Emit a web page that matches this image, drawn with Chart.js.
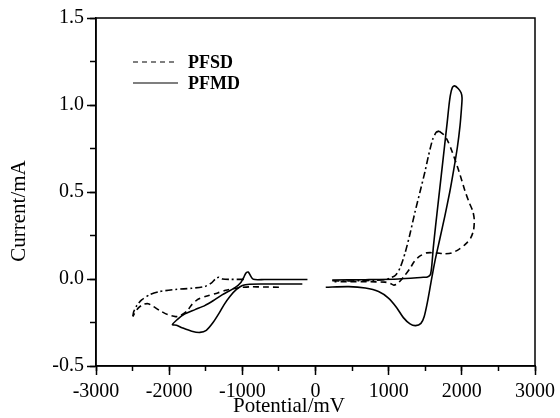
<!DOCTYPE html>
<html lang="en">
<head>
<meta charset="UTF-8">
<title>Cyclic voltammograms PFSD / PFMD</title>
<script src="https://cdn.jsdelivr.net/npm/chart.js@4"></script>
<style>
  html, body { margin: 0; padding: 0; background: #fff; }
  #wrap { width: 560px; height: 418px; }
</style>
</head>
<body>
<div id="wrap"><canvas id="cv"></canvas></div>
<script>
// axis ranges and labels
const xRange = [-3000, 3000];
const yRange = [-0.5, 1.5];
const xTitle = "Potential/mV";
const yTitle = "Current/mA";
const legendLabels = ["PFSD", "PFMD"];

// PFSD as [potential mV, current mA]
const pfsdNegLower = [[-500,-0.047],[-700,-0.046],[-900,-0.045],[-1050,-0.05],[-1227,-0.065],[-1337,-0.08],
  [-1470,-0.096],[-1600,-0.115],[-1690,-0.147],[-1757,-0.185],[-1846,-0.21],[-1912,-0.216],[-2022,-0.204],
  [-2133,-0.18],[-2221,-0.157],[-2288,-0.142],[-2354,-0.146],[-2420,-0.166],[-2477,-0.2],[-2495,-0.215]];
const pfsdNegUpper = [[-2495,-0.215],[-2486,-0.19],[-2442,-0.152],[-2376,-0.12],[-2265,-0.09],[-2133,-0.072],
  [-1912,-0.06],[-1691,-0.053],[-1514,-0.043],[-1420,-0.022],[-1360,0.004],[-1320,0.01],[-1270,0.0],
  [-1150,-0.002],[-950,-0.002]];
const pfsdPosRise = [[230,-0.01],[400,-0.012],[600,-0.01],[800,-0.008],[950,-0.004],[1045,0.01],[1100,0.025],
  [1156,0.064],[1224,0.149],[1292,0.26],[1360,0.385],[1428,0.5],[1495,0.615],[1545,0.71],[1600,0.8],
  [1650,0.843],[1690,0.85]];
const pfsdPosReturn = [[1690,0.85],[1750,0.83],[1800,0.8],[1860,0.74],[1920,0.67],[1975,0.6],[2040,0.51],
  [2100,0.44],[2150,0.39],[2170,0.34],[2160,0.28],[2120,0.235],[2050,0.2],[1960,0.17],[1860,0.15],
  [1760,0.145],[1650,0.15],[1520,0.15],[1420,0.13],[1350,0.1],[1290,0.06],[1220,0.02],[1160,-0.01],
  [1110,-0.03],[1070,-0.035],[1020,-0.025],[950,-0.018],[700,-0.016],[450,-0.015],[260,-0.016]];

// PFMD
const pfmdNeg = [[-110,-0.003],[-400,-0.003],[-700,-0.003],[-850,-0.002],[-890,0.02],[-920,0.04],[-950,0.035],
  [-980,0.01],[-1020,-0.02],[-1100,-0.05],[-1205,-0.075],[-1271,-0.09],[-1381,-0.12],[-1514,-0.153],
  [-1646,-0.176],[-1801,-0.204],[-1890,-0.233],[-1956,-0.262],[-1900,-0.266],[-1823,-0.28],[-1691,-0.3],
  [-1580,-0.307],[-1492,-0.295],[-1403,-0.252],[-1315,-0.195],[-1249,-0.147],[-1170,-0.1],[-1080,-0.06],
  [-1000,-0.037],[-900,-0.03],[-700,-0.029],[-400,-0.029],[-180,-0.029]];
const pfmdPos = [[140,-0.047],[455,-0.044],[681,-0.052],[862,-0.072],[997,-0.11],[1110,-0.165],[1201,-0.222],
  [1292,-0.258],[1368,-0.268],[1441,-0.255],[1486,-0.215],[1531,-0.13],[1576,-0.025],[1631,0.1],[1699,0.23],
  [1767,0.36],[1835,0.5],[1890,0.63],[1940,0.76],[1975,0.88],[1995,0.98],[2003,1.04],[1990,1.07],
  [1950,1.095],[1900,1.11],[1870,1.1],[1845,1.06],[1825,1.0],[1800,0.9],[1760,0.75],[1720,0.6],[1680,0.45],
  [1640,0.3],[1610,0.18],[1590,0.08],[1570,0.025],[1530,0.012],[1472,0.01],[1133,0.0],[681,-0.004],[228,-0.006]];

const DASH = [6, 4];
const DASH_DOT = [7, 3, 2, 3];
const FONT = '"Liberation Serif", "Times New Roman", serif';

function curve(points, dash) {
  return {
    data: points.map(([x, y]) => ({ x, y })),
    showLine: true,
    borderColor: "#000",
    borderWidth: 1.6,
    borderDash: dash,
    pointRadius: 0,
    tension: 0.25,
    fill: false
  };
}

// frame, axis titles and the little legend in the top-left corner
const decorations = {
  id: "decorations",
  afterDraw(chart) {
    const { ctx, chartArea: a } = chart;
    ctx.save();
    ctx.strokeStyle = "#000";
    ctx.lineWidth = 1.5;
    ctx.strokeRect(a.left, a.top, a.right - a.left, a.bottom - a.top);

    ctx.fillStyle = "#000";
    ctx.font = "21px " + FONT;
    ctx.textAlign = "center";
    ctx.textBaseline = "middle";
    ctx.fillText(xTitle, 289, 406);
    ctx.save();
    ctx.translate(19, 211);
    ctx.rotate(-Math.PI / 2);
    ctx.fillText(yTitle, 0, 0);
    ctx.restore();

    const dashes = [[5, 4], []];
    ctx.font = "bold 18px " + FONT;
    ctx.textAlign = "left";
    ctx.lineWidth = 1.2;
    legendLabels.forEach((label, i) => {
      const y = 62 + i * 21;
      ctx.setLineDash(dashes[i]);
      ctx.beginPath();
      ctx.moveTo(133, y);
      ctx.lineTo(178, y);
      ctx.stroke();
      ctx.fillText(label, 188, y + 1);
    });
    ctx.restore();
  }
};

const tickFont = { family: FONT, size: 20 };

new Chart(document.getElementById("cv"), {
  type: "scatter",
  data: {
    datasets: [
      curve(pfsdNegLower, DASH),
      curve(pfsdNegUpper, DASH_DOT),
      curve(pfsdPosRise, DASH_DOT),
      curve(pfsdPosReturn, DASH),
      curve(pfmdNeg, []),
      curve(pfmdPos, [])
    ]
  },
  options: {
    responsive: true,
    maintainAspectRatio: false,
    animation: false,
    layout: { padding: { top: 18, right: 23, left: 0, bottom: 0 } },
    plugins: { legend: { display: false }, tooltip: { enabled: false } },
    scales: {
      x: {
        type: "linear", position: "bottom", weight: 1,
        min: xRange[0], max: xRange[1],
        ticks: { stepSize: 1000, color: "#000", font: tickFont, padding: 5, autoSkip: false, maxRotation: 0,
                 callback: v => String(v) },
        grid: { drawOnChartArea: false, tickLength: 9, tickColor: "#000", tickWidth: 1.5 },
        border: { color: "#000", width: 1.5 },
        afterFit: s => { s.height = 52; }
      },
      xMinor: {
        type: "linear", position: "bottom", weight: 0,
        min: xRange[0], max: xRange[1],
        ticks: { stepSize: 500, display: false },
        grid: { drawOnChartArea: false, tickLength: 5, tickColor: "#000", tickWidth: 1.5 },
        border: { display: false },
        afterFit: s => { s.height = 0; }
      },
      y: {
        type: "linear", position: "left", weight: 1,
        min: yRange[0], max: yRange[1],
        ticks: { stepSize: 0.5, color: "#000", font: tickFont, padding: 3, callback: v => v.toFixed(1) },
        grid: { drawOnChartArea: false, tickLength: 9, tickColor: "#000", tickWidth: 1.5 },
        border: { color: "#000", width: 1.5 },
        afterFit: s => { s.width = 96; }
      },
      yMinor: {
        type: "linear", position: "left", weight: 0,
        min: yRange[0], max: yRange[1],
        ticks: { stepSize: 0.25, display: false },
        grid: { drawOnChartArea: false, tickLength: 6, tickColor: "#000", tickWidth: 1.5 },
        border: { display: false },
        afterFit: s => { s.width = 0; }
      }
    }
  },
  plugins: [decorations]
});
</script>
</body>
</html>
